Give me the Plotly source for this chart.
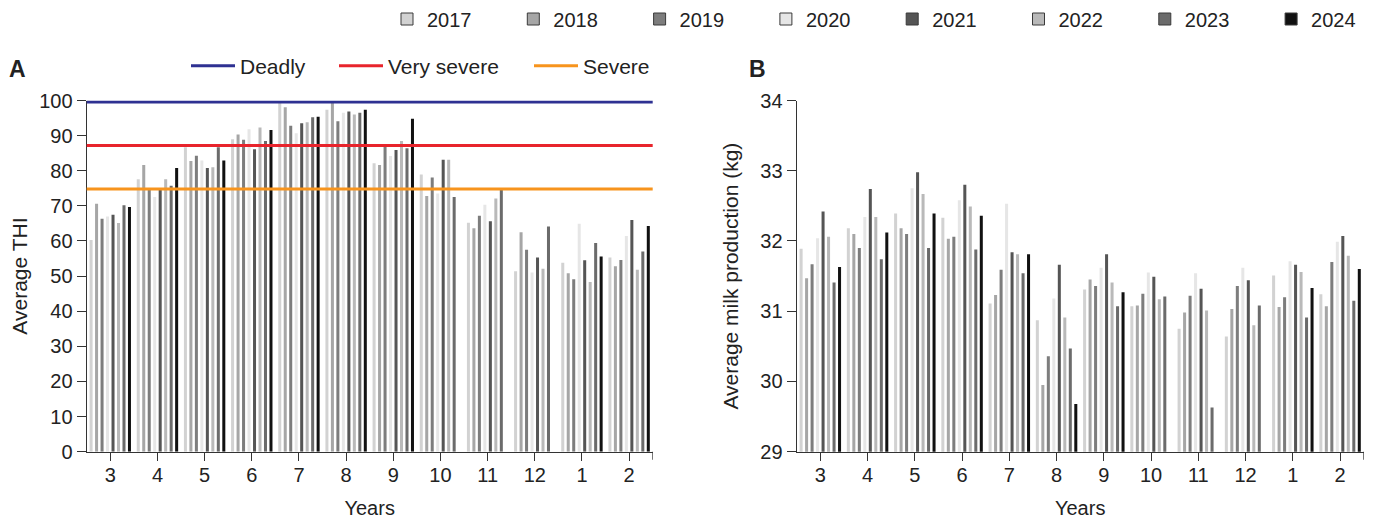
import plotly.graph_objects as go

# ---------------- data ----------------
months = ["3", "4", "5", "6", "7", "8", "9", "10", "11", "12", "1", "2"]
years = ["2017", "2018", "2019", "2020", "2021", "2022", "2023", "2024"]
year_colors = ["#d2d2d2", "#a6a6a6", "#7d7d7d", "#e6e6e6",
               "#555555", "#b9b9b9", "#6b6b6b", "#111111"]

thi_2017 = [60.3, 77.6, 86.7, 89.0, 99.4, 97.4, 82.1, 78.9, 65.2, 51.4, 53.8, 55.3]
thi_2018 = [70.6, 81.6, 82.8, 90.3, 98.1, 99.7, 81.6, 72.8, 63.6, 62.5, 50.8, 52.8]
thi_2019 = [66.3, 74.5, 84.3, 88.8, 92.8, 94.1, 86.9, 78.1, 67.2, 57.5, 49.1, 54.6]
thi_2020 = [67.0, 72.5, 82.9, 91.8, 90.7, 96.5, 84.2, 73.5, 70.3, 51.0, 64.9, 61.4]
thi_2021 = [67.5, 74.7, 80.8, 86.1, 93.5, 96.9, 85.9, 83.1, 65.6, 55.3, 54.5, 66.0]
thi_2022 = [65.1, 77.6, 81.0, 92.3, 93.8, 96.0, 88.5, 83.1, 72.1, 52.1, 48.3, 51.8]
thi_2023 = [70.2, 75.7, 86.7, 88.5, 95.2, 96.5, 86.4, 72.5, 74.7, 64.1, 59.4, 57.0]
thi_2024 = [69.7, 80.8, 82.9, 91.6, 95.4, 97.4, 94.8, None, None, None, 55.6, 64.3]

milk_2017 = [31.89, 32.18, 32.39, 32.33, 31.11, 30.87, 31.31, 31.07, 30.75, 30.64, 31.51, 31.24]
milk_2018 = [31.47, 32.10, 32.18, 32.03, 31.23, 29.95, 31.45, 31.08, 30.98, 31.03, 31.06, 31.07]
milk_2019 = [31.67, 31.90, 32.10, 32.06, 31.59, 30.36, 31.36, 31.25, 31.22, 31.36, 31.20, 31.70]
milk_2020 = [32.04, 32.34, 32.75, 32.58, 32.53, 31.18, 31.62, 31.55, 31.54, 31.62, 31.71, 31.99]
milk_2021 = [32.42, 32.74, 32.98, 32.80, 31.84, 31.66, 31.81, 31.49, 31.32, 31.44, 31.66, 32.07]
milk_2022 = [32.06, 32.34, 32.67, 32.49, 31.81, 30.91, 31.41, 31.17, 31.01, 30.80, 31.56, 31.79]
milk_2023 = [31.41, 31.74, 31.90, 31.88, 31.54, 30.47, 31.07, 31.21, 29.63, 31.08, 30.91, 31.15]
milk_2024 = [31.63, 32.12, 32.39, 32.36, 31.81, 29.68, 31.27, None, None, None, 31.33, 31.60]

threshold_names = ["Deadly", "Very severe", "Severe"]
threshold_values = [99.6, 87.2, 74.8]
threshold_colors = ["#2e3192", "#e8242c", "#f7941d"]

thi = [thi_2017, thi_2018, thi_2019, thi_2020, thi_2021, thi_2022, thi_2023, thi_2024]
milk = [milk_2017, milk_2018, milk_2019, milk_2020, milk_2021, milk_2022, milk_2023, milk_2024]

# ---------------- figure ----------------
W, H = 1381, 522
OFF = 8  # page body margin of the exported html
FONT = "Liberation Sans, Arial, Helvetica, sans-serif"
TXT = "#222222"
AX = "#333333"


def px_x(p):
    return (p - OFF) / W


def px_y(p):
    return 1 - (p - OFF) / H


fig = go.Figure()
for yr, col, a, b in zip(years, year_colors, thi, milk):
    fig.add_trace(go.Bar(x=months, y=a, name=yr, marker=dict(color=col, line=dict(width=0)),
                         showlegend=False, xaxis="x", yaxis="y"))
    fig.add_trace(go.Bar(x=months, y=b, name=yr, marker=dict(color=col, line=dict(width=0)),
                         showlegend=False, xaxis="x2", yaxis="y2"))
    # legend-only entry (hidden subplot)
    fig.add_trace(go.Bar(x=[None], y=[None], name=yr,
                         marker=dict(color=col, line=dict(color="#3a3a3a", width=1)),
                         showlegend=True, legend="legend", xaxis="x3", yaxis="y3"))

shapes = []
legend_ids = ["legend2", "legend3", "legend4"]
for nm, v, c, lg in zip(threshold_names, threshold_values, threshold_colors, legend_ids):
    shapes.append(dict(type="line", xref="x domain", x0=0, x1=1, yref="y", y0=v, y1=v,
                       line=dict(color=c, width=3), layer="above",
                       showlegend=True, legend=lg, name=nm))

# tick at axis end (Prism style)
end = len(months) - 0.5
for xr, yr_ in (("x", "y domain"), ("x2", "y2 domain")):
    shapes.append(dict(type="line", xref=xr, x0=end, x1=end, yref=yr_, y0=0, y1=-8 / 351.2,
                       line=dict(color=AX, width=1.3)))

ydom = [px_y(451.7), px_y(100.5)]
common_x = dict(type="category", showline=True, linecolor=AX, linewidth=1.3, ticks="outside",
                ticklen=8, tickwidth=1.3, tickcolor=AX, showgrid=False, zeroline=False,
                tickfont=dict(size=20, color=TXT, family=FONT), range=[-0.5, len(months) - 0.5],
                categoryorder="array", categoryarray=months, ticklabelstandoff=-3)
common_y = dict(showline=True, linecolor=AX, linewidth=1.3, ticks="outside", ticklen=9,
                tickwidth=1.3, tickcolor=AX, showgrid=False, zeroline=False,
                tickfont=dict(size=20, color=TXT, family=FONT))


def small_legend(xpix):
    return dict(orientation="h", x=px_x(xpix), y=px_y(66), xanchor="left", yanchor="middle",
                font=dict(size=21, color=TXT), bgcolor="rgba(0,0,0,0)", itemwidth=44)


fig.update_layout(
    width=W, height=H,
    margin=dict(l=0, r=0, t=0, b=0, autoexpand=False),
    paper_bgcolor="white", plot_bgcolor="white",
    font=dict(family=FONT, size=20, color=TXT),
    barmode="group", bargap=0.07, bargroupgap=0.45,
    xaxis=dict(domain=[px_x(86.7), px_x(652.7)], anchor="y",
               title=dict(text="Years", font=dict(size=20, color=TXT), standoff=16), **common_x),
    yaxis=dict(domain=ydom, anchor="x", range=[0, 100], dtick=10,
               title=dict(text="Average THI", font=dict(size=21, color=TXT), standoff=6), **common_y),
    xaxis2=dict(domain=[px_x(796.7), px_x(1363.7)], anchor="y2",
                title=dict(text="Years", font=dict(size=20, color=TXT), standoff=16), **common_x),
    yaxis2=dict(domain=ydom, anchor="x2", range=[29, 34], dtick=1,
                title=dict(text="Average milk production (kg)", font=dict(size=21, color=TXT), standoff=15),
                **common_y),
    xaxis3=dict(domain=[0, 0.001], anchor="y3", visible=False),
    yaxis3=dict(domain=[0, 0.001], anchor="x3", visible=False),
    legend=dict(orientation="h", x=px_x(387), y=px_y(19), xanchor="left", yanchor="middle",
                font=dict(size=20, color=TXT), bgcolor="rgba(0,0,0,0)", entrywidth=81.3,
                traceorder="normal"),
    legend2=small_legend(186),
    legend3=small_legend(334),
    legend4=small_legend(529),
    shapes=shapes,
    annotations=[
        dict(text="<b>A</b>", xref="paper", yref="paper", x=px_x(7), y=px_y(69), xanchor="left",
             yanchor="middle", showarrow=False, font=dict(size=23, color=TXT)),
        dict(text="<b>B</b>", xref="paper", yref="paper", x=px_x(747), y=px_y(69), xanchor="left",
             yanchor="middle", showarrow=False, font=dict(size=23, color=TXT)),
    ],
)

fig.write_html("out.html")
